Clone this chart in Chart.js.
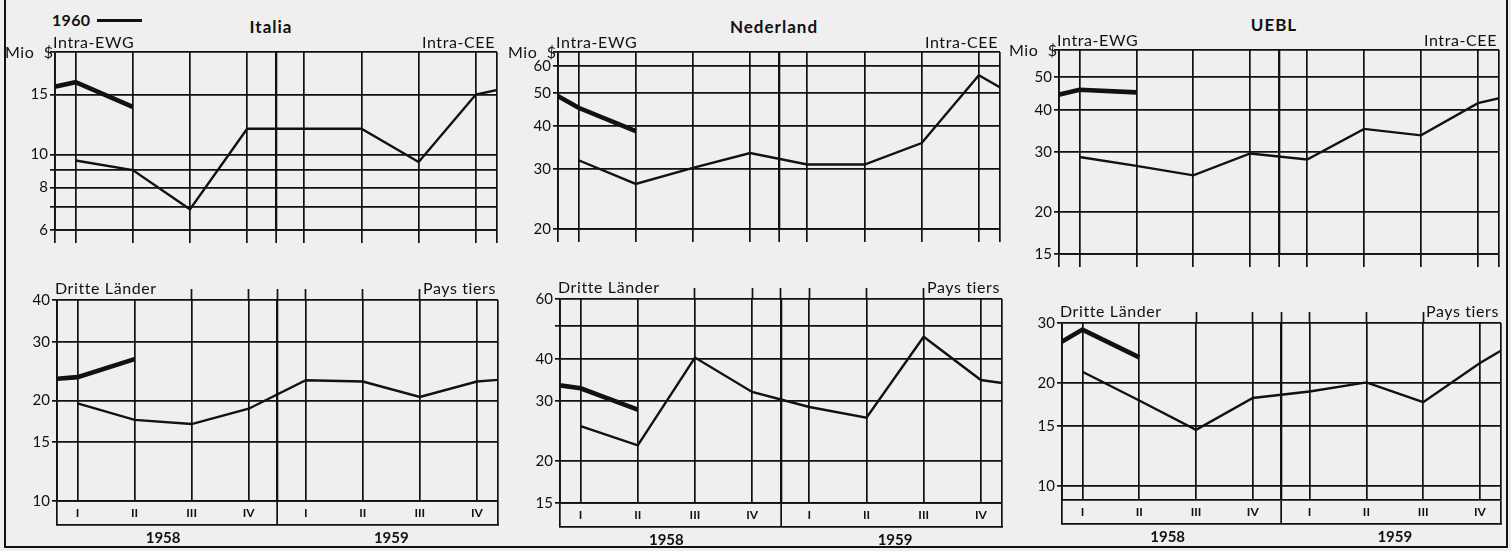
<!DOCTYPE html>
<html>
<head>
<meta charset="utf-8">
<script src="https://cdn.jsdelivr.net/npm/chart.js@4.4.1/dist/chart.umd.min.js"></script>
<style>
body { margin: 0; background: #efefef; }
#page { position: relative; width: 1511px; height: 551px; overflow: hidden; background: #efefef; font-family: Lato, "Open Sans", sans-serif; color: #111; }
#frame { position: absolute; box-sizing: border-box; left: 4px; top: -10px; width: 1504px; height: 558px; border: 2px solid #111; }
canvas { position: absolute; }
.lbl { position: absolute; white-space: pre; font-size: 16px; line-height: 16px; letter-spacing: 0.6px; }
.ttl { font-weight: bold; font-size: 17px; letter-spacing: 1px; }
.key { font-weight: bold; font-size: 16px; letter-spacing: 0.3px; }
</style>
</head>
<body>
<div id="page"><div id="frame"></div></div>
<script>
const quarterLabels = ['I', 'II', 'III', 'IV', 'I', 'II', 'III', 'IV'];
const yearLabels = ['1958', '1959'];

// Mio $ per quarter, I/1958 .. IV/1959, and 1960 (I, II)
const italiaIntra5859 = [9.6, 9.0, 6.9, 11.9, 11.9, 11.9, 9.5, 15.0];
const italiaIntra1960 = [16.3, 13.8];
const italiaTiers5859 = [19.6, 17.5, 17.0, 18.9, 23.0, 22.8, 20.5, 22.8];
const italiaTiers1960 = [23.5, 26.6];
const nederlandIntra5859 = [31.8, 27.1, 30.2, 33.4, 30.9, 30.9, 35.7, 56.4];
const nederlandIntra1960 = [45.3, 38.7];
const nederlandTiers5859 = [25.3, 22.2, 40.3, 31.9, 28.8, 26.8, 46.4, 34.6];
const nederlandTiers1960 = [32.7, 28.3];
const ueblIntra5859 = [29.0, 27.3, 25.6, 29.7, 28.5, 35.1, 33.6, 41.8];
const ueblIntra1960 = [45.8, 45.0];
const ueblTiers5859 = [21.6, 17.8, 14.6, 18.1, 18.9, 20.1, 17.6, 22.9];
const ueblTiers1960 = [28.7, 23.8];

// log axes: gridlines and the ones with a number
const italiaIntraGrid = [6, 7, 8, 9, 10, 15];
const italiaIntraTicks = [6, 8, 10, 15];
const italiaTiersGrid = [10, 15, 20, 30, 40];
const italiaTiersTicks = [10, 15, 20, 30, 40];
const nederlandIntraGrid = [20, 30, 40, 50, 60];
const nederlandIntraTicks = [20, 30, 40, 50, 60];
const nederlandTiersGrid = [15, 20, 30, 40, 50, 60];
const nederlandTiersTicks = [15, 20, 30, 40, 60];
const ueblIntraGrid = [15, 20, 30, 40, 50];
const ueblIntraTicks = [15, 20, 30, 40, 50];
const ueblTiersGrid = [10, 15, 20, 30];
const ueblTiersTicks = [10, 15, 20, 30];

const ink = '#111';
const X_MIN = -0.36, X_MAX = 7.37;
const Y_W = 44, PAD = 11, YEAR_H = 20;
const xGridValues = [X_MIN, 0, 1, 2, 3, 3.5, 4, 5, 6, 7, X_MAX];
const xStubValues = [2, 3, 3.5, 4, 5, 6]; // lines poking above the lower panels
const GRID_W = 1.7;

Chart.defaults.font.family = 'Lato, "Open Sans", sans-serif';

const panels = [
  { title: 'Italia', row: 'top', area: [55, 52, 497, 230], range: [6, 20], grid: italiaIntraGrid, ticks: italiaIntraTicks, a: italiaIntra5859, b: italiaIntra1960 },
  { row: 'bottom', area: [57, 300, 498, 501], range: [10, 40], grid: italiaTiersGrid, ticks: italiaTiersTicks, a: italiaTiers5859, b: italiaTiers1960 },
  { title: 'Nederland', row: 'top', area: [558, 52, 1000, 229], range: [20, 66], grid: nederlandIntraGrid, ticks: nederlandIntraTicks, a: nederlandIntra5859, b: nederlandIntra1960 },
  { row: 'bottom', area: [560, 299, 1002, 503], range: [15, 60], grid: nederlandTiersGrid, ticks: nederlandTiersTicks, a: nederlandTiers5859, b: nederlandTiers1960 },
  { title: 'UEBL', row: 'top', area: [1059, 50, 1499, 254], range: [15, 60], grid: ueblIntraGrid, ticks: ueblIntraTicks, a: ueblIntra5859, b: ueblIntra1960 },
  { row: 'bottom', area: [1062, 323, 1501, 500], range: [9.1, 30], grid: ueblTiersGrid, ticks: ueblTiersTicks, a: ueblTiers5859, b: ueblTiers1960 }
];

const page = document.getElementById('page');

function addText(text, x, yc, align, cls) {
  const d = document.createElement('div');
  d.className = 'lbl' + (cls ? ' ' + cls : '');
  d.textContent = text;
  d.style.top = (yc - 8) + 'px';
  if (align === 'right') d.style.right = (1511 - x) + 'px';
  else d.style.left = x + 'px';
  if (align === 'center') d.style.transform = 'translateX(-50%)';
  page.appendChild(d);
}

// 1958/59 line runs on to I/1960, the 1960 line starts from IV/1959; the frame cuts both
function series(a, b) {
  const past = a.map((v, i) => ({ x: i, y: v }));
  past.push({ x: a.length, y: b[0] });
  const cur = [{ x: -1, y: a[a.length - 1] }].concat(b.map((v, i) => ({ x: i, y: v })));
  return [cur, past];
}

function makeChart(p) {
  const [l, t, r, b] = p.area;
  const bottomRow = p.row === 'bottom';
  const xH = bottomRow ? 24 : 13;
  const cv = document.createElement('canvas');
  cv.width = Y_W + (r - l) + PAD;
  cv.height = PAD + (b - t) + xH + (bottomRow ? YEAR_H : 0) + 4;
  cv.style.left = (l - Y_W) + 'px';
  cv.style.top = (t - PAD) + 'px';
  page.appendChild(cv);

  const yGrid = p.grid.includes(p.range[1]) ? p.grid : p.grid.concat([p.range[1]]);
  const [cur, past] = series(p.a, p.b);
  const isFrameTick = v => v === 3.5 || v === X_MIN || v === X_MAX;

  const scales = {
    x: {
      type: 'linear', position: 'bottom', min: X_MIN, max: X_MAX,
      afterBuildTicks: s => { s.ticks = xGridValues.map(v => ({ value: v })); },
      afterFit: s => { s.height = xH; },
      grid: {
        color: ink,
        lineWidth: c => (c.tick && c.tick.value === 3.5 ? 2.3 : GRID_W),
        tickLength: xH,
        tickWidth: GRID_W,
        tickColor: c => (!bottomRow || (c.tick && isFrameTick(c.tick.value)) ? ink : 'rgba(0,0,0,0)')
      },
      border: { display: true, color: ink, width: 1.8 },
      ticks: {
        display: bottomRow, autoSkip: false, maxRotation: 0, padding: -19,
        color: ink, font: { size: 12, weight: 'bold' },
        callback: v => (Number.isInteger(v) && v >= 0 && v < quarterLabels.length ? quarterLabels[v] : '')
      }
    },
    y: {
      type: 'logarithmic', min: p.range[0], max: p.range[1],
      afterBuildTicks: s => { s.ticks = yGrid.map(v => ({ value: v })); },
      afterFit: s => { s.width = Y_W; },
      grid: { color: ink, lineWidth: GRID_W, tickLength: 5, tickColor: ink },
      border: { display: true, color: ink, width: 1.8 },
      ticks: {
        autoSkip: false, padding: 2, color: ink, font: { size: 15 },
        callback: v => (p.ticks.includes(v) ? String(v) : '')
      }
    }
  };
  if (bottomRow) {
    scales.x2 = {
      type: 'linear', position: 'bottom', min: X_MIN, max: X_MAX,
      afterBuildTicks: s => { s.ticks = [1.5, 5.5].map(v => ({ value: v })); },
      afterFit: s => { s.height = YEAR_H; },
      grid: { display: false, drawTicks: false },
      border: { display: true, color: ink, width: 1.8 },
      ticks: {
        autoSkip: false, maxRotation: 0, padding: 4, color: ink,
        font: { size: 15, weight: 'bold' },
        callback: v => (v < 3.5 ? yearLabels[0] : yearLabels[1])
      }
    };
    scales.xt = {
      type: 'linear', position: 'top', min: X_MIN, max: X_MAX,
      afterBuildTicks: s => { s.ticks = xStubValues.map(v => ({ value: v })); },
      afterFit: s => { s.height = PAD; },
      grid: { drawOnChartArea: false, tickLength: PAD, tickColor: ink, tickWidth: GRID_W },
      border: { display: false },
      ticks: { display: false }
    };
  }

  new Chart(cv, {
    type: 'line',
    data: {
      datasets: [
        { label: '1960', data: cur, borderColor: ink, borderWidth: 4.6, pointRadius: 0, tension: 0, clip: 0 },
        { label: '1958-1959', data: past, borderColor: ink, borderWidth: 2.4, pointRadius: 0, tension: 0, clip: 0 }
      ]
    },
    options: {
      responsive: false, animation: false, devicePixelRatio: 1, events: [],
      layout: { padding: { top: bottomRow ? 0 : PAD, right: PAD, bottom: 4, left: 0 } },
      plugins: { legend: { display: false }, tooltip: { enabled: false } },
      scales: scales
    }
  });

  if (p.title) {
    addText(p.title, (l + r) / 2 - 5, t - 25, 'center', 'ttl');
    addText('Intra-EWG', l - 2, t - 10, 'left');
    addText('Intra-CEE', r - 2, t - 10, 'right');
    addText('Mio  $', l - 50, t, 'left');
  } else {
    addText('Dritte Länder', l - 2, t - 12, 'left');
    addText('Pays tiers', r - 2, t - 12, 'right');
  }
}

panels.forEach(makeChart);

// legend: 1960 ----
addText('1960', 52, 20, 'left', 'key');
const key = document.createElement('div');
key.style.cssText = 'position:absolute;left:97px;top:18.5px;width:45px;height:3px;background:#111;';
page.appendChild(key);
</script>
</body>
</html>
